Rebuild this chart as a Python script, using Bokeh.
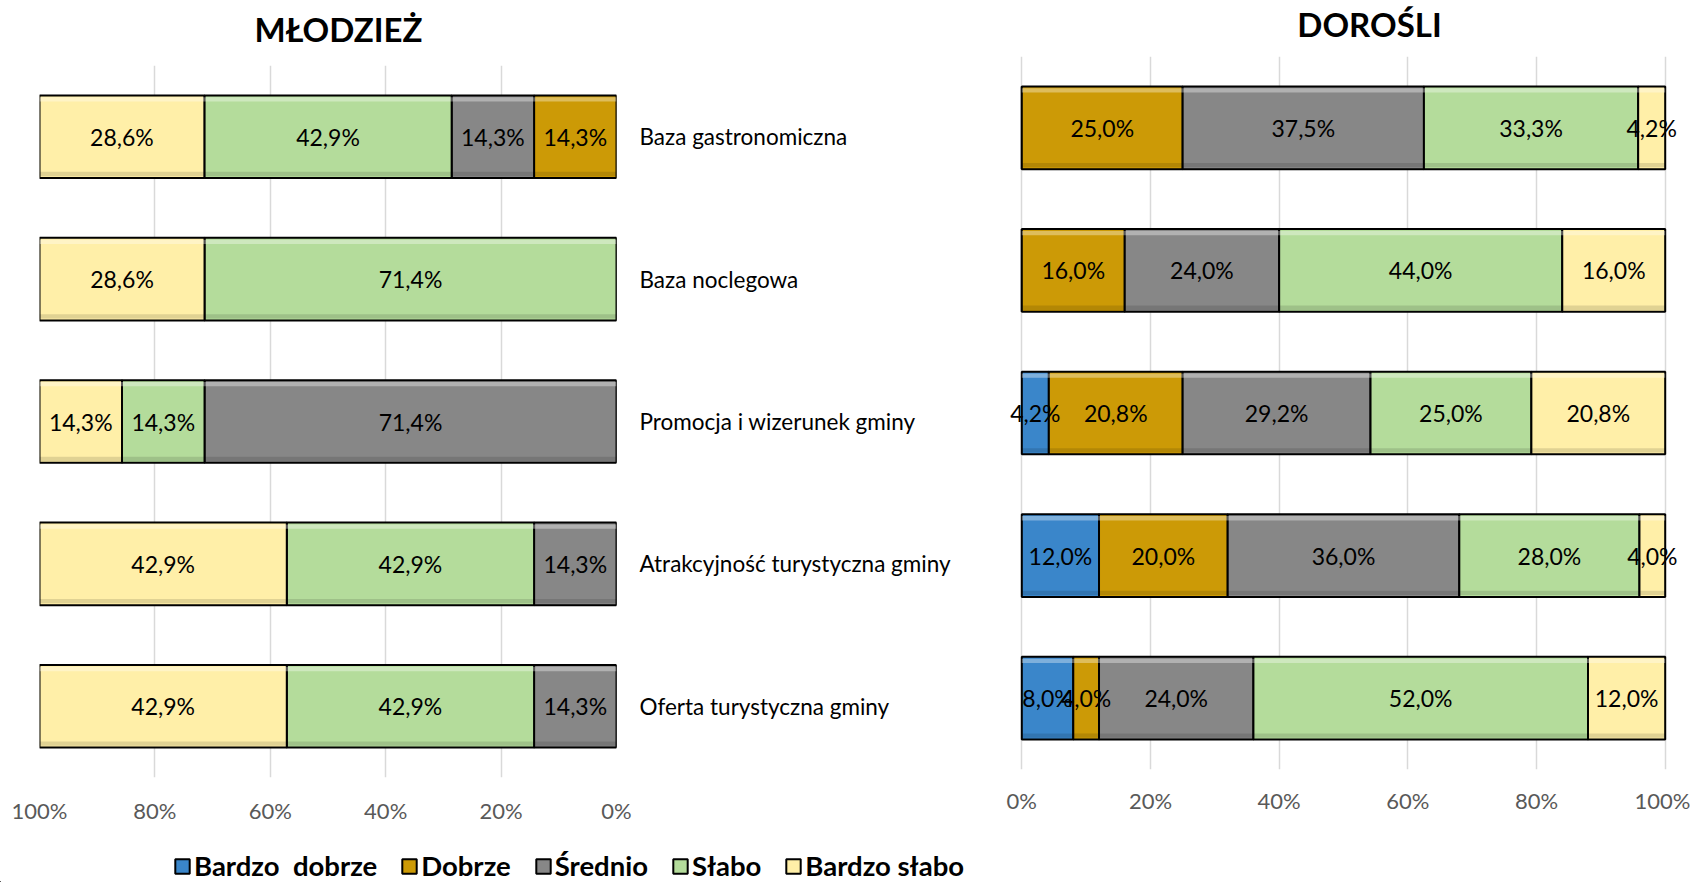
from bokeh.plotting import figure
from bokeh.models import (ColumnDataSource, Range1d, FactorRange, FixedTicker,
                          PrintfTickFormatter, Legend, LegendItem)
from bokeh.layouts import row, column
from bokeh.embed import file_html
from bokeh.resources import INLINE
from bokeh.core.properties import value
from bokeh.transform import dodge

categories = ["Baza gastronomiczna", "Baza noclegowa", "Promocja i wizerunek gminy",
              "Atrakcyjność turystyczna gminy", "Oferta turystyczna gminy"]
series = ["Bardzo  dobrze", "Dobrze", "Średnio", "Słabo", "Bardzo słabo"]
colors = ["#3A86CA", "#CC9A06", "#878787", "#B4DC9B", "#FFEFA8"]
titles = ["MŁODZIEŻ", "DOROŚLI"]
ticks = [0, 20, 40, 60, 80, 100]

# MŁODZIEŻ
m_bardzo_dobrze = [0, 0, 0, 0, 0]
m_dobrze = [14.3, 0, 0, 0, 0]
m_srednio = [14.3, 0, 71.4, 14.3, 14.3]
m_slabo = [42.9, 71.4, 14.3, 42.9, 42.9]
m_bardzo_slabo = [28.6, 28.6, 14.3, 42.9, 42.9]

# DOROŚLI
d_bardzo_dobrze = [0, 0, 4.2, 12.0, 8.0]
d_dobrze = [25.0, 16.0, 20.8, 20.0, 4.0]
d_srednio = [37.5, 24.0, 29.2, 36.0, 24.0]
d_slabo = [33.3, 44.0, 25.0, 28.0, 52.0]
d_bardzo_slabo = [4.2, 16.0, 20.8, 4.0, 12.0]

FONT = "Lato"


def make_chart(cols, xr, width, height, mb_left, mb_right, mb_top, mb_bottom,
               ylabels, tick_standoff):
    keys = ["s0", "s1", "s2", "s3", "s4"]
    data = {"y": categories}
    sums = [sum(c[i] for c in cols) for i in range(len(categories))]
    for k, c in zip(keys, cols):
        data[k] = [v / s * 100 for v, s in zip(c, sums)]
    src = ColumnDataSource(data)

    p = figure(width=width, height=height, x_range=xr,
               y_range=FactorRange(factors=categories[::-1]),
               y_axis_location="right" if ylabels else None,
               output_backend="svg", toolbar_location=None,
               min_border_left=mb_left, min_border_right=mb_right,
               min_border_top=mb_top, min_border_bottom=mb_bottom)
    p.outline_line_color = None
    p.background_fill_color = "white"
    p.border_fill_color = "white"

    rends = p.hbar_stack(keys, y="y", height=0.58, color=colors, line_color="#000000",
                         line_width=2, source=src)
    # bevel-like highlight (top) and shade (bottom) on each segment
    p.hbar_stack(keys, y=dodge("y", 0.262, range=p.y_range), height=0.03,
                 fill_color="#FFFFFF", fill_alpha=0.35, line_color=None, source=src)
    p.hbar_stack(keys, y=dodge("y", -0.262, range=p.y_range), height=0.03,
                 fill_color="#000000", fill_alpha=0.12, line_color=None, source=src)

    # data labels
    xs, ys, txt = [], [], []
    for i, cat in enumerate(categories):
        cum = 0
        for k, c in zip(keys, cols):
            w = data[k][i]
            if c[i] > 0:
                xs.append(cum + w / 2)
                ys.append(cat)
                txt.append(("%.1f" % c[i]).replace(".", ",") + "%")
            cum += w
    p.text(x=xs, y=ys, text=txt, text_align="center", text_baseline="middle",
           text_font=value(FONT), text_font_size="23px", text_color="#000000")

    p.xaxis.ticker = FixedTicker(ticks=ticks)
    p.xaxis.formatter = PrintfTickFormatter(format="%d%%")
    p.xaxis.axis_line_color = None
    p.xaxis.major_tick_line_color = None
    p.xaxis.minor_tick_line_color = None
    p.xaxis.major_label_text_font = FONT
    p.xaxis.major_label_text_font_size = "22px"
    p.xaxis.major_label_text_color = "#595959"
    p.xaxis.major_label_standoff = tick_standoff
    p.xgrid.grid_line_color = "#D9D9D9"
    p.xgrid.grid_line_width = 1.5
    p.ygrid.grid_line_color = None

    if ylabels:
        p.yaxis.axis_line_color = None
        p.yaxis.major_tick_line_color = None
        p.yaxis.minor_tick_line_color = None
        p.yaxis.major_label_text_font = FONT
        p.yaxis.major_label_text_font_size = "22.5px"
        p.yaxis.major_label_text_color = "#000000"
        p.yaxis.major_label_standoff = 17
    return p, rends


left, lrends = make_chart([m_bardzo_dobrze, m_dobrze, m_srednio, m_slabo, m_bardzo_slabo],
                          Range1d(100, 0), 966, 772, 39, 350, 11, 48, True, 13)
right, rrends = make_chart([d_bardzo_dobrze, d_dobrze, d_srednio, d_slabo, d_bardzo_slabo],
                           Range1d(-3, 103), 724, 772, 36, 6, 2, 57, False, 11)

# title strip (pixel coordinates)
ts = figure(width=1690, height=54, x_range=Range1d(0, 1690), y_range=Range1d(54, 0),
            x_axis_location=None, y_axis_location=None, output_backend="svg",
            toolbar_location=None, min_border=0)
ts.outline_line_color = None
ts.xgrid.grid_line_color = None
ts.ygrid.grid_line_color = None
ts.text(x=[338, 1369], y=[28, 23.5], text=titles, text_align="center",
        text_baseline="middle", text_font=value(FONT), text_font_style="bold",
        text_font_size="33px", text_color="#000000")

# legend strip
lg = figure(width=1690, height=56, x_range=Range1d(0, 1), y_range=Range1d(0, 1),
            x_axis_location=None, y_axis_location=None, output_backend="svg",
            toolbar_location=None, min_border=0)
lg.outline_line_color = None
lg.xgrid.grid_line_color = None
lg.ygrid.grid_line_color = None
dummy = [lg.hbar(y=-5, left=-5, right=-4, height=1, fill_color=c, line_color="#000000",
                 line_width=2) for c in colors]
legend = Legend(items=[LegendItem(label=s, renderers=[r]) for s, r in zip(series, dummy)],
                orientation="horizontal", location=(173, 0),
                label_text_font=FONT, label_text_font_style="bold",
                label_text_font_size="27.5px", label_text_color="#000000",
                glyph_width=18, glyph_height=18, spacing=23, label_standoff=3,
                padding=0, margin=0, border_line_color=None, background_fill_alpha=0)
lg.add_layout(legend, "center")

layout = column(ts, row(left, column(right)), lg)
open("out.html", "w").write(file_html(layout, INLINE))
